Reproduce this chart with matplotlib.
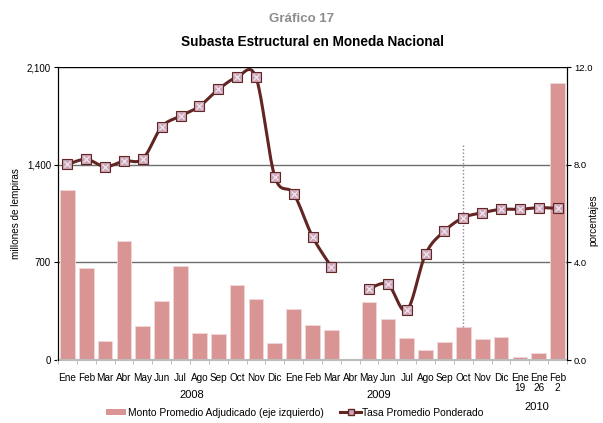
import numpy as np
import matplotlib
matplotlib.use("Agg")
import matplotlib.pyplot as plt
from matplotlib.patches import Patch
from matplotlib.lines import Line2D

plt.rcParams['font.family'] = ['Liberation Sans', 'DejaVu Sans']

# meses (2008, 2009) y subastas semanales de 2010
meses = ["Ene", "Feb", "Mar", "Abr", "May", "Jun", "Jul", "Ago", "Sep", "Oct", "Nov", "Dic",
         "Ene", "Feb", "Mar", "Abr", "May", "Jun", "Jul", "Ago", "Sep", "Oct", "Nov", "Dic",
         "Ene\n19", "Ene\n26", "Feb\n2"]

# Monto promedio adjudicado (millones de lempiras), Abr 2009 sin subasta
monto = [1220, 657, 138, 855, 244, 423, 674, 191, 184, 537, 435, 122,
         363, 251, 213, np.nan, 418, 296, 158, 72, 129, 239, 153, 165,
         19, 50, 1987]

# Tasa promedio ponderado (%)
tasa = [8.01, 8.22, 7.92, 8.15, 8.24, 9.55, 9.99, 10.39, 11.08, 11.58, 11.58, 7.51,
        6.81, 5.05, 3.82, np.nan, 2.91, 3.10, 2.03, 4.34, 5.28, 5.83, 6.03, 6.17,
        6.17, 6.24, 6.21]

col_barra = "#d99594"
col_linea = "#632523"
col_marca = "#c9a7b9"


def suavizar(x, y, n=20):
    # curva tipo Catmull-Rom, como la linea suavizada de Excel
    x = np.asarray(x, float)
    y = np.asarray(y, float)
    px = np.concatenate([[x[0]], x, [x[-1]]])
    py = np.concatenate([[y[0]], y, [y[-1]]])
    xs, ys = [], []
    for i in range(1, len(px) - 2):
        t = np.linspace(0, 1, n)
        for arr, out in ((px, xs), (py, ys)):
            p0, p1, p2, p3 = arr[i - 1], arr[i], arr[i + 1], arr[i + 2]
            out.extend(0.5 * ((2 * p1) + (-p0 + p2) * t
                              + (2 * p0 - 5 * p1 + 4 * p2 - p3) * t ** 2
                              + (-p0 + 3 * p1 - 3 * p2 + p3) * t ** 3))
    return xs, ys


fig = plt.figure(figsize=(6.03, 4.23), dpi=100)
ax = fig.add_axes([0.0962, 0.1489, 0.8441, 0.6927])
ax2 = ax.twinx()

x = np.arange(len(meses))
ax.bar(x, monto, width=0.78, color=col_barra, edgecolor="#f0d8d8", linewidth=0.6, zorder=2)
ax.set_xlim(-0.5, len(meses) - 0.5)
ax.set_ylim(0, 2100)
ax.set_yticks([0, 700, 1400, 2100])
ax.set_yticklabels(["0", "700", "1,400", "2,100"])
for v in [700, 1400]:
    ax.axhline(v, color="#6e6e6e", linewidth=1.0, zorder=1)
ax.axhline(2100, color="black", linewidth=1.0, zorder=1)

ax.set_xticks(x)
ax.set_xticklabels(meses, fontsize=7.2, linespacing=1.1, va="top")
ax.set_xticks(np.arange(-0.5, len(meses), 1), minor=True)
ax.tick_params(axis="x", which="major", length=0, pad=9)
ax.tick_params(axis="x", which="minor", length=3, color="#b0b0b0")
ax.tick_params(axis="y", labelsize=7, length=3, pad=2)
ax.set_ylabel("millones de lempiras", fontsize=7.2, labelpad=4)

for s in ["top"]:
    ax.spines[s].set_visible(False)
    ax2.spines[s].set_visible(False)
ax.spines["bottom"].set_color("#bcbcbc")
ax.spines["bottom"].set_linewidth(1.5)
ax2.spines["bottom"].set_visible(False)

# linea de tasa en dos tramos (sin dato en Abr 2009)
tasa_arr = np.array(tasa)
validos = ~np.isnan(tasa_arr)
tramos = []
inicio = None
for i, ok in enumerate(validos):
    if ok and inicio is None:
        inicio = i
    if (not ok or i == len(validos) - 1) and inicio is not None:
        fin = i if not ok else i + 1
        tramos.append((inicio, fin))
        inicio = None
for a, b in tramos:
    xs, ys = suavizar(x[a:b], tasa_arr[a:b])
    ax2.plot(xs, ys, color=col_linea, linewidth=2.2, zorder=3, solid_capstyle="round")
ax2.plot(x[validos], tasa_arr[validos], linestyle="none", marker="s", markersize=6.5,
         markerfacecolor=col_marca, markeredgecolor=col_linea, markeredgewidth=0.8, zorder=4)
ax2.plot(x[validos], tasa_arr[validos], linestyle="none", marker="x", markersize=5,
         color="#f3e6ee", markeredgewidth=0.9, zorder=5)

# linea punteada en Oct 2009
ax2.plot([21, 21], [239 / 2100 * 12, 8.83], color="#8a8a8a", linestyle=(0, (1, 1.5)),
         linewidth=1.0, zorder=2)

ax2.set_ylim(0, 12)
ax2.set_yticks([0, 4, 8, 12])
ax2.set_yticklabels(["0.0", "4.0", "8.0", "12.0"])
ax2.tick_params(axis="y", labelsize=6.8, length=3, pad=2)
fig.text(0.984, 0.48, "porcentajes", rotation=90, ha="center", va="center", fontsize=7.2)

# etiquetas de anios
tr = ax.get_xaxis_transform()
ax.text(6.6, -0.12, "2008", transform=tr, ha="center", va="center", fontsize=8)
ax.text(16.5, -0.12, "2009", transform=tr, ha="center", va="center", fontsize=8)
ax.text(24.9, -0.16, "2010", transform=tr, ha="center", va="center", fontsize=8)

fig.text(0.5, 0.955, "Gráfico 17", ha="center", va="center", fontsize=9.5,
         fontweight="bold", color="#8c8c8c")
fig.text(0.519, 0.9, "Subasta Estructural en Moneda Nacional", ha="center", va="center",
         fontsize=9.8, fontweight="bold")

handles = [Patch(facecolor=col_barra, edgecolor="none"),
           Line2D([0], [0], color=col_linea, linewidth=2.2, marker="s", markersize=5,
                  markerfacecolor=col_marca, markeredgecolor=col_linea)]
fig.legend(handles, ["Monto Promedio Adjudicado (eje izquierdo)", "Tasa Promedio Ponderado"],
           loc="center", bbox_to_anchor=(0.489, 0.024), ncol=2, frameon=False,
           fontsize=7.4, columnspacing=1.6, handlelength=2.0, handletextpad=0.15,
           handleheight=0.6)

fig.savefig("out.png", dpi=100)
